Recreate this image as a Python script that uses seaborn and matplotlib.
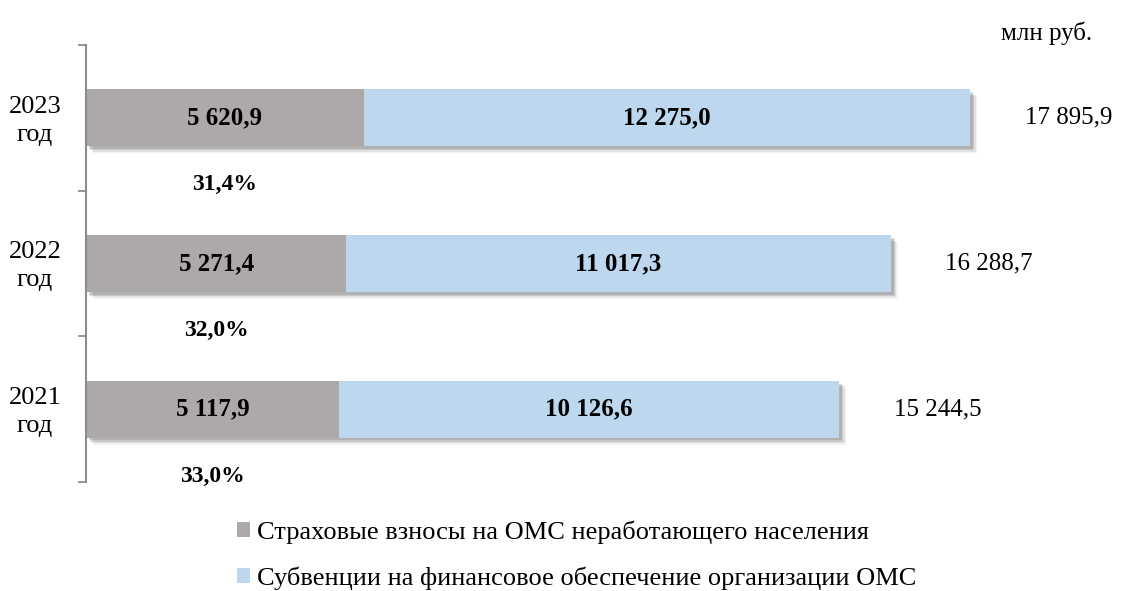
import matplotlib
matplotlib.use("Agg")
import matplotlib.pyplot as plt
import matplotlib.patheffects as pe
import matplotlib.transforms as mtransforms
import seaborn as sns
import pandas as pd

# data (млн руб.)
years = ["2023", "2022", "2021"]
contributions = [5620.9, 5271.4, 5117.9]   # страховые взносы
subventions = [12275.0, 11017.3, 10126.6]  # субвенции
totals = [17895.9, 16288.7, 15244.5]
shares = ["31,4%", "32,0%", "33,0%"]

lbl_gray = "Страховые взносы на ОМС неработающего населения"
lbl_blue = "Субвенции на финансовое обеспечение организации ОМС"

df = pd.DataFrame({"year": years, "gray": contributions,
                   "blue": subventions, "total": totals})

def fmt(v):
    return f"{v:,.1f}".replace(",", " ").replace(".", ",")

sns.set_style("white")
plt.rcParams["font.family"] = ["Liberation Serif", "DejaVu Serif"]
plt.rcParams["text.color"] = "black"

fig = plt.figure(figsize=(11.26, 5.91), dpi=100)
ax = fig.add_axes([86 / 1126, 1 - 482 / 591, 1 - 86 / 1126, (482 - 45) / 591])

# full bar (blue) with soft shadow, gray part drawn over it
sns.barplot(data=df, y="year", x="total", order=years, color="#BDD7EE",
            width=0.39, saturation=1, linewidth=0, ax=ax, label=lbl_blue)
shadow = [pe.SimplePatchShadow(offset=(o, -o), shadow_rgbFace="#606060", alpha=a)
          for o, a in [(5, 0.08), (4, 0.12), (3, 0.18), (2, 0.22)]]
for p in ax.patches:
    p.set_path_effects(shadow + [pe.Normal()])
sns.barplot(data=df, y="year", x="gray", order=years, color="#ADA9A8",
            width=0.39, saturation=1, linewidth=0, ax=ax, label=lbl_gray)

ax.set_xlim(0, 21050)
ax.set_ylim(2.5, -0.5)
ax.set_xlabel("")
ax.set_ylabel("")
ax.set_xticks([])
ax.set_yticks([-0.5, 0.5, 1.5, 2.5])
ax.set_yticklabels([])
ax.tick_params(axis="y", direction="out", length=6, width=1.3, color="#8c8c8c", left=True)
for side in ["top", "right", "bottom"]:
    ax.spines[side].set_visible(False)
ax.spines["left"].set_color("#8c8c8c")
ax.spines["left"].set_linewidth(1.5)

trans = mtransforms.blended_transform_factory(ax.transAxes, ax.transData)
for i, row in df.iterrows():
    ax.text(row["gray"] / 2, i, fmt(row["gray"]), ha="center", va="center",
            fontsize=18, fontweight="bold", color="black")
    ax.text(row["gray"] + row["blue"] / 2, i, fmt(row["blue"]), ha="center", va="center",
            fontsize=18, fontweight="bold", color="black")
    ax.text(row["total"] + 1100, i, fmt(row["total"]), ha="left", va="center",
            fontsize=18, color="black")
    ax.text(row["gray"] / 2, i + 0.46, shares[i], ha="center", va="center",
            fontsize=17, fontweight="bold", color="black")
    ax.text(-0.049, i + 0.02, f"{row['year']}\nгод", transform=trans, ha="center",
            va="center", fontsize=19, linespacing=1.35, color="black")

fig.text(1047 / 1126, 1 - 33 / 591, "млн руб.", ha="center", va="center",
         fontsize=18, color="black")

handles, labels = ax.get_legend_handles_labels()
if ax.get_legend() is not None:
    ax.get_legend().remove()
order = [labels.index(lbl_gray), labels.index(lbl_blue)]
leg = fig.legend([handles[k] for k in order], [labels[k] for k in order],
                 loc="upper left", bbox_to_anchor=(237 / 1126, 1 - 520 / 591),
                 frameon=False, fontsize=19, handlelength=0.5, handleheight=0.5,
                 handletextpad=0.25, labelspacing=0.87, borderpad=0, borderaxespad=0)
for h in leg.legend_handles:
    h.set_path_effects([])
for t in leg.get_texts():
    t.set_color("black")

fig.savefig("out.png", dpi=100)
